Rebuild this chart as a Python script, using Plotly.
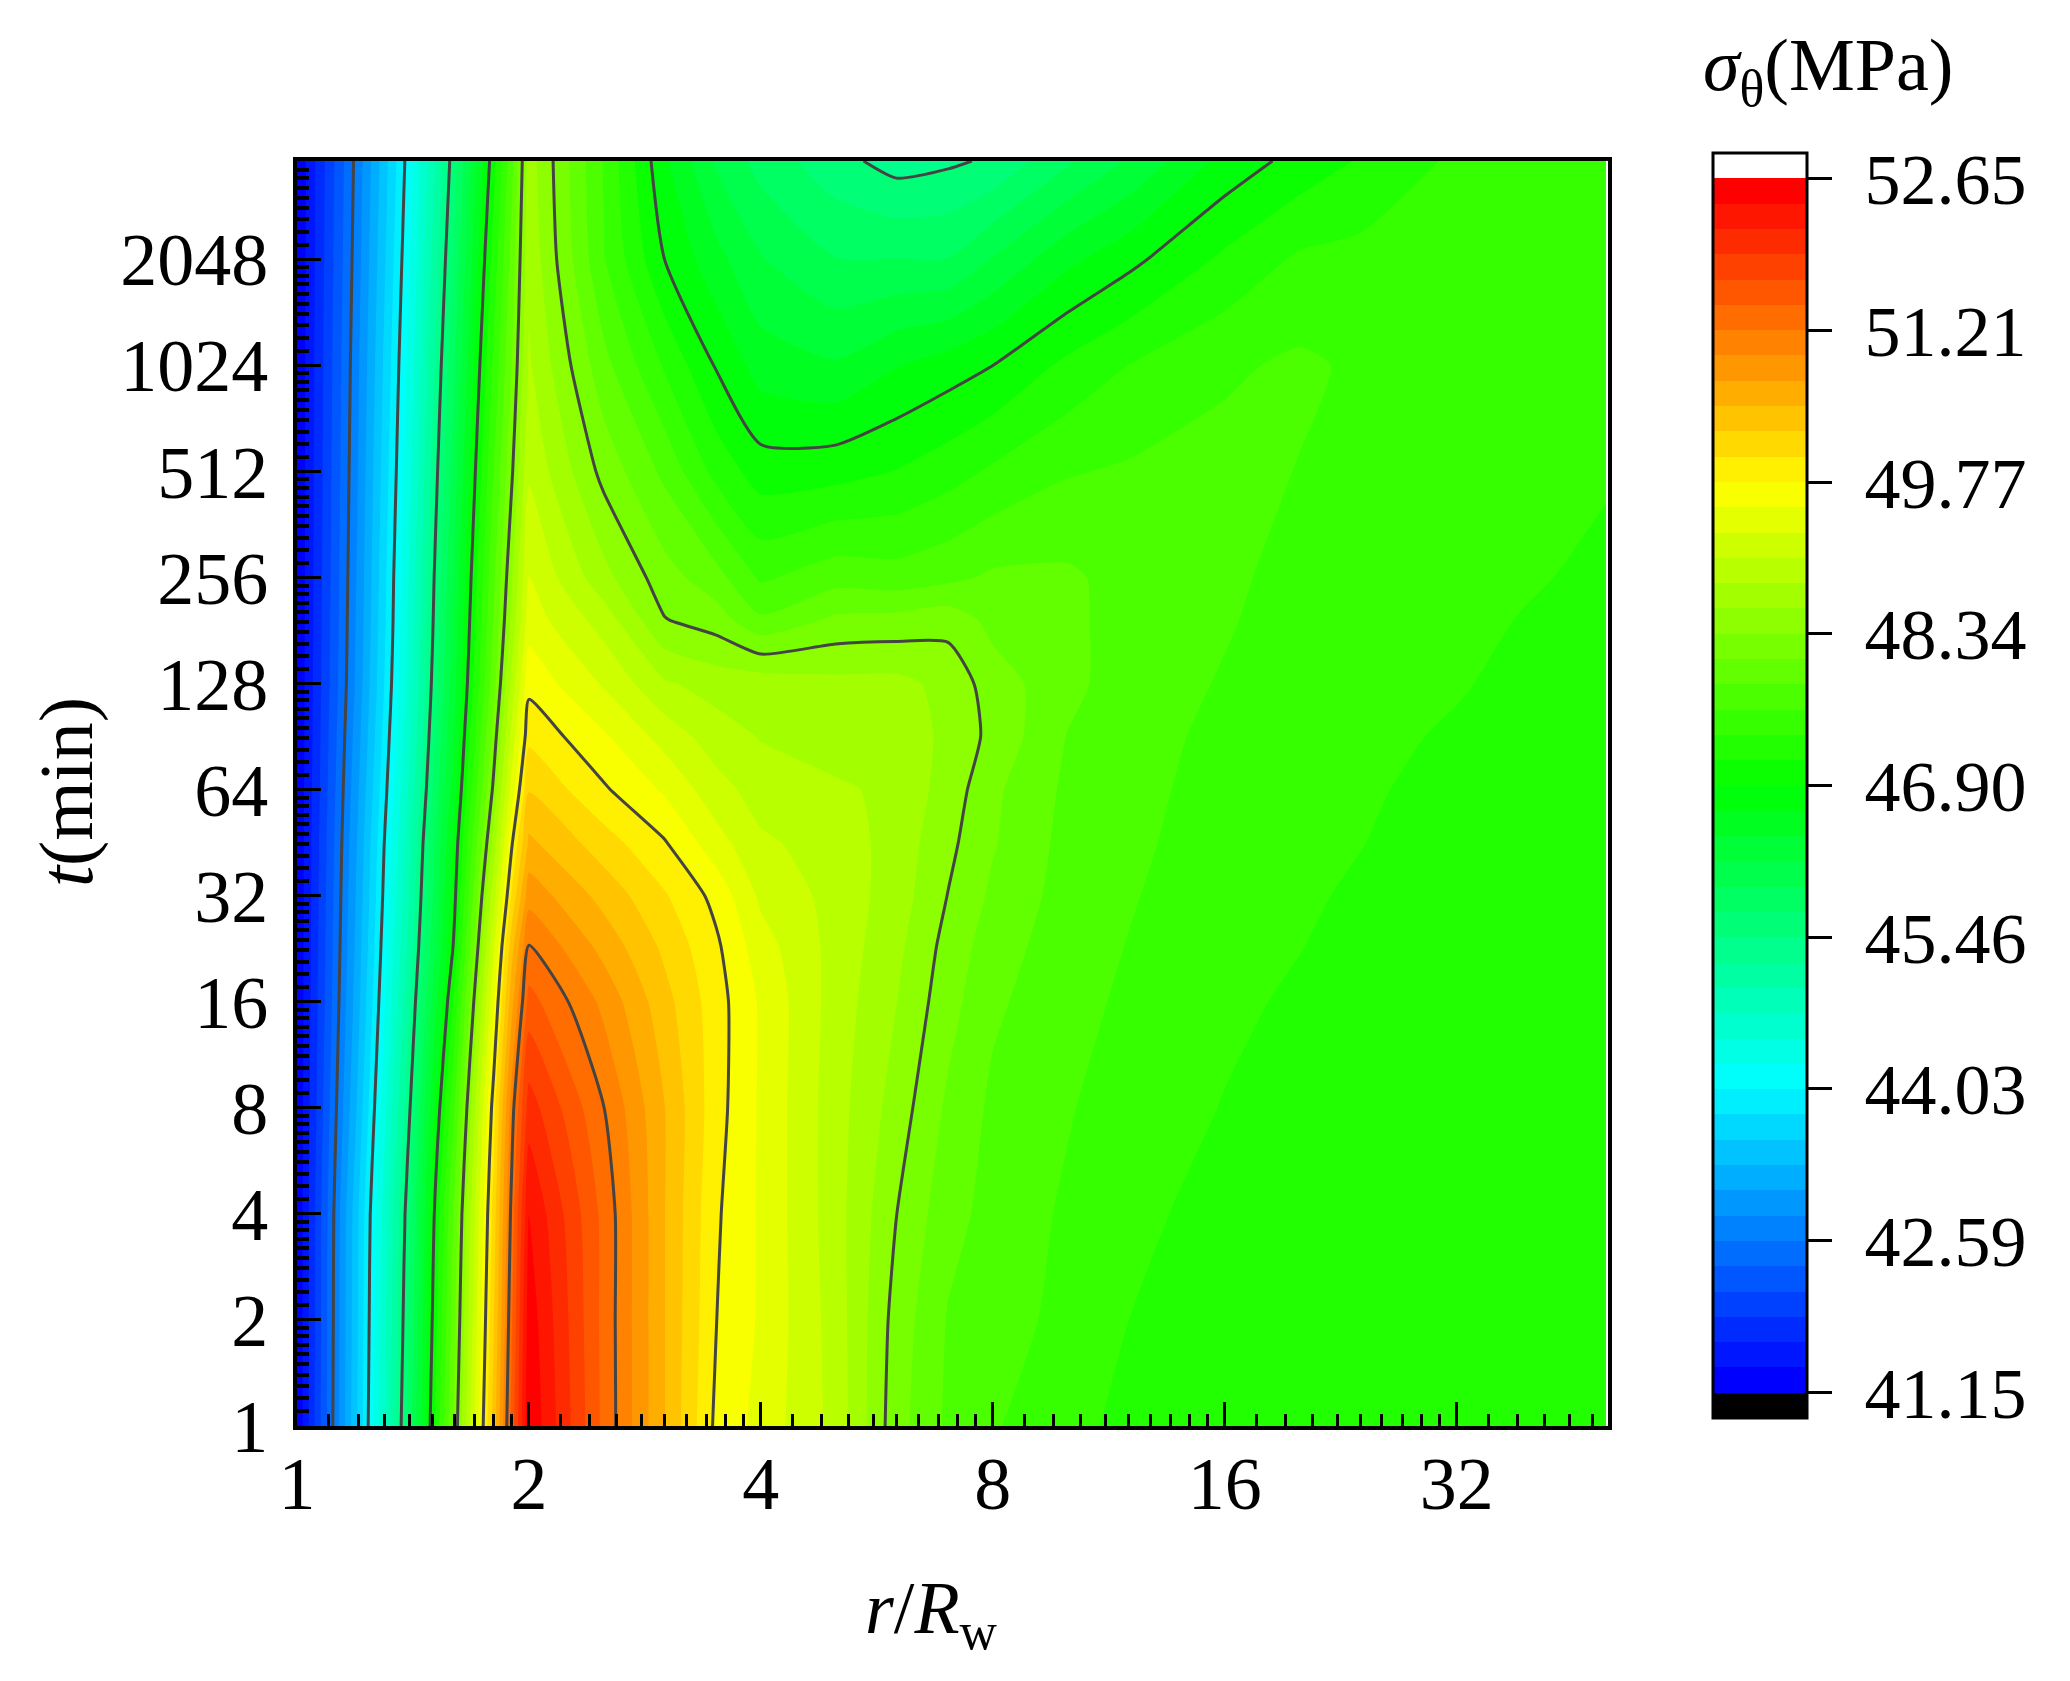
import plotly.graph_objects as go

# r/Rw and t(min) grid
r_ratio = [1, 1.2, 1.4, 1.6, 1.8, 1.9, 2, 2.5, 3, 3.5, 4, 5, 6, 7, 8, 10, 12, 16, 20, 24, 32, 40, 50]
t_min = [1, 2, 4, 8, 16, 23, 32, 45, 64, 91, 128, 194, 256, 512, 1024, 2048, 3900]

s_t1 = [41.17, 43.58, 45.83, 48.16, 50.36, 51.54, 52.62, 51.39, 50.50, 49.72, 49.45, 48.98, 48.19, 47.81, 47.64, 47.47, 47.30, 47.24, 47.22, 47.20, 47.19, 47.18, 47.17]
s_t2 = [41.17, 43.55, 45.74, 48.03, 50.23, 51.42, 52.55, 51.38, 50.50, 49.78, 49.50, 48.95, 48.24, 47.84, 47.74, 47.54, 47.38, 47.27, 47.24, 47.22, 47.20, 47.19, 47.18]
s_t4 = [41.17, 43.52, 45.65, 47.91, 50.11, 51.30, 52.41, 51.38, 50.50, 49.81, 49.50, 48.92, 48.34, 47.94, 47.78, 47.58, 47.43, 47.31, 47.27, 47.24, 47.21, 47.20, 47.19]
s_t8 = [41.17, 43.36, 45.44, 47.60, 49.90, 51.10, 52.05, 51.22, 50.50, 49.87, 49.50, 48.92, 48.47, 48.05, 47.81, 47.64, 47.49, 47.37, 47.30, 47.26, 47.22, 47.21, 47.20]
s_t16 = [41.17, 43.23, 45.20, 47.20, 49.50, 50.65, 51.55, 50.91, 50.34, 49.88, 49.50, 48.95, 48.58, 48.19, 47.90, 47.71, 47.57, 47.42, 47.35, 47.30, 47.23, 47.22, 47.21]
s_t23 = [41.17, 43.18, 45.08, 46.95, 49.25, 50.40, 51.22, 50.65, 50.20, 49.82, 49.40, 48.97, 48.64, 48.25, 47.97, 47.73, 47.61, 47.45, 47.385, 47.32, 47.25, 47.23, 47.22]
s_t32 = [41.17, 43.14, 44.99, 46.83, 48.98, 50.05, 50.88, 50.41, 50.04, 49.70, 49.25, 48.97, 48.70, 48.33, 48.05, 47.76, 47.64, 47.47, 47.41, 47.35, 47.26, 47.25, 47.23]
s_t45 = [41.17, 43.10, 44.92, 46.73, 48.68, 49.75, 50.55, 50.13, 49.80, 49.40, 49.10, 48.95, 48.72, 48.40, 48.12, 47.78, 47.67, 47.50, 47.43, 47.385, 47.28, 47.26, 47.24]
s_t64 = [41.17, 43.04, 44.80, 46.57, 48.40, 49.40, 50.24, 49.81, 49.50, 49.15, 48.95, 48.87, 48.74, 48.48, 48.15, 47.81, 47.69, 47.53, 47.45, 47.41, 47.31, 47.27, 47.25]
s_t91 = [41.17, 42.98, 44.70, 46.45, 48.20, 49.13, 49.95, 49.57, 49.20, 48.93, 48.80, 48.65, 48.72, 48.52, 48.27, 47.85, 47.71, 47.56, 47.47, 47.44, 47.35, 47.29, 47.26]
s_t128 = [41.17, 42.92, 44.62, 46.35, 48.00, 48.90, 49.70, 49.27, 48.85, 48.72, 48.72, 48.65, 48.65, 48.50, 48.22, 47.93, 47.73, 47.60, 47.50, 47.48, 47.40, 47.31, 47.28]
s_t194 = [41.17, 42.89, 44.56, 46.27, 47.88, 48.65, 49.42, 48.95, 48.35, 48.22, 47.90, 48.15, 48.18, 48.25, 48.02, 47.92, 47.75, 47.64, 47.53, 47.52, 47.44, 47.36, 47.31]
s_t256 = [41.17, 42.87, 44.54, 46.22, 47.81, 48.55, 49.30, 48.66, 48.20, 47.95, 47.58, 47.76, 47.72, 47.80, 47.90, 47.90, 47.77, 47.66, 47.55, 47.54, 47.47, 47.40, 47.33]
s_t512 = [41.17, 42.83, 44.44, 46.07, 47.62, 48.30, 49.02, 48.26, 47.80, 47.30, 47.02, 47.05, 47.15, 47.28, 47.42, 47.60, 47.65, 47.70, 47.61, 47.58, 47.52, 47.46, 47.40]
s_t1024 = [41.17, 42.79, 44.35, 45.92, 47.43, 48.10, 48.85, 47.94, 47.35, 46.88, 46.55, 46.45, 46.65, 46.78, 46.90, 47.20, 47.38, 47.58, 47.66, 47.58, 47.54, 47.50, 47.46]
s_t2048 = [41.17, 42.74, 44.25, 45.76, 47.24, 47.95, 48.75, 47.64, 46.90, 46.50, 46.20, 45.95, 45.95, 45.95, 46.20, 46.60, 46.83, 47.19, 47.42, 47.46, 47.50, 47.50, 47.52]
s_t3900 = [41.17, 42.70, 44.16, 45.61, 47.05, 47.78, 48.69, 47.60, 46.70, 46.15, 45.85, 45.55, 45.36, 45.42, 45.50, 45.90, 46.20, 46.74, 46.99, 47.16, 47.43, 47.48, 47.56]

stress = [s_t1, s_t2, s_t4, s_t8, s_t16, s_t23, s_t32, s_t45, s_t64, s_t91, s_t128, s_t194,
          s_t256, s_t512, s_t1024, s_t2048, s_t3900]

r_ticks = [1, 2, 4, 8, 16, 32]
t_ticks = [1, 2, 4, 8, 16, 32, 64, 128, 256, 512, 1024, 2048]
bar_ticks = [41.15, 42.59, 44.03, 45.46, 46.90, 48.34, 49.77, 51.21, 52.65]

FONT = "Liberation Serif"
low, high = 41.15, 52.65
step = (high - low) / 48
r_max, t_max = 50.3, 3900


def rainbow(f):
    # blue - cyan - green - yellow - red
    f = f * 4
    if f < 1:
        return f"rgb(0,{round(255 * f)},255)"
    if f < 2:
        return f"rgb(0,255,{round(255 * (2 - f))})"
    if f < 3:
        return f"rgb({round(255 * (f - 2))},255,0)"
    return f"rgb(255,{round(255 * (4 - f))},0)"


# one black band under the range and one white band above it, as in the bar
band_colors = ["rgb(0,0,0)"] + [rainbow(i / 47) for i in range(48)] + ["rgb(255,255,255)"]
colorscale = []
for i, c in enumerate(band_colors):
    colorscale.append([i / 50, c])
    colorscale.append([(i + 1) / 50, c])


def minor_ticks(top):
    out = []
    p = 1
    while p < top:
        for k in range(1, 10):
            v = p * (1 + k / 10)
            if v < top:
                out.append(v)
        p *= 2
    return out


def px_x(x):
    return (x - 297) / 1311


def px_y(y):
    return (1426 - y) / 1265


fig = go.Figure()
fig.add_trace(go.Contour(
    x=r_ratio, y=t_min, z=stress,
    zmin=low - step, zmax=high + step,
    colorscale=colorscale,
    autocontour=False,
    contours=dict(start=low - step, end=high + step, size=step, coloring="fill", showlines=False),
    line=dict(width=0, smoothing=0.6),
    colorbar=dict(
        xref="container", x=1705 / 2062, xanchor="left",
        yref="paper", y=px_y(1418), yanchor="bottom",
        lenmode="fraction", len=1, thicknessmode="pixels", thickness=94,
        xpad=0, ypad=0,
        outlinecolor="black", outlinewidth=3, borderwidth=0,
        tickmode="array", tickvals=bar_ticks, ticktext=[f"\u00a0{v:.2f}" for v in bar_ticks],
        ticks="outside", ticklen=24, tickwidth=3, tickcolor="black",
        tickfont=dict(family=FONT, size=72, color="black"),
    ),
))
# dark lines every sixth band
fig.add_trace(go.Contour(
    x=r_ratio, y=t_min, z=stress, showscale=False,
    autocontour=False,
    contours=dict(start=low + 6 * step, end=high - 6 * step, size=6 * step, coloring="none"),
    line=dict(color="#444444", width=3, smoothing=0.6),
))

axis_style = dict(
    type="log", showgrid=False, zeroline=False,
    showline=True, linecolor="black", linewidth=4, mirror=True,
    ticks="inside", ticklen=24, tickwidth=3, tickcolor="black",
    tickfont=dict(family=FONT, size=74, color="black"),
)
fig.update_layout(
    width=2062, height=1673,
    margin=dict(l=289, r=462, t=153, b=255, autoexpand=False),
    paper_bgcolor="white", plot_bgcolor="white",
    font=dict(family=FONT, color="black"),
    xaxis=dict(
        axis_style,
        range=[0, 1.7016],
        tickmode="array", tickvals=r_ticks, ticktext=[str(v) for v in r_ticks],
        ticklabelstandoff=-10,
        minor=dict(tickmode="array", tickvals=minor_ticks(r_max), ticks="inside", ticklen=12,
                   tickwidth=3, tickcolor="black", showgrid=False),
    ),
    yaxis=dict(
        axis_style,
        range=[0, 3.5911],
        tickmode="array", tickvals=t_ticks, ticktext=[str(v) for v in t_ticks],
        ticklabelstandoff=10,
        minor=dict(tickmode="array", tickvals=minor_ticks(t_max), ticks="inside", ticklen=12,
                   tickwidth=4, tickcolor="black", showgrid=False),
    ),
    annotations=[
        dict(text="<i>σ</i><sub>θ</sub>(MPa)", x=px_x(1828), y=px_y(71), textangle=0,
             font=dict(family=FONT, size=74, color="black")),
        dict(text="<i>r</i>/<i>R</i><sub>w</sub>", x=px_x(931), y=px_y(1613), textangle=0,
             font=dict(family=FONT, size=74, color="black")),
        dict(text="<i>t</i>(min)", x=px_x(66), y=px_y(792), textangle=-90,
             font=dict(family=FONT, size=76, color="black")),
    ],
)
fig.update_annotations(xref="paper", yref="paper", xanchor="center", yanchor="middle", showarrow=False)

fig.write_html("out.html")
